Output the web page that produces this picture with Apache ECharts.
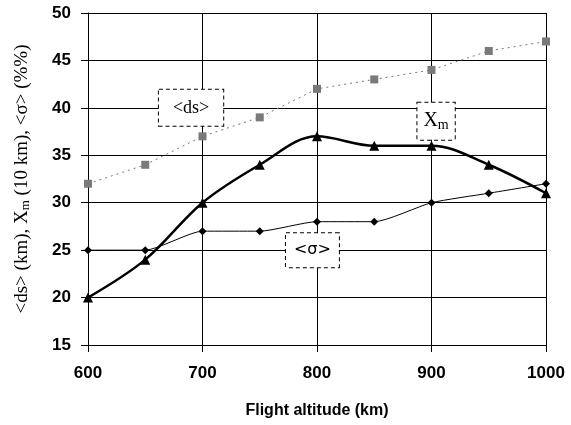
<!DOCTYPE html>
<html>
<head>
<meta charset="utf-8">
<script src="https://cdn.jsdelivr.net/npm/echarts@6/dist/echarts.min.js"></script>
<style>
  html, body { margin: 0; padding: 0; background: #fff; }
  #main { width: 571px; height: 425px; }
</style>
</head>
<body>
<div id="main"></div>
<script>
// flight altitude (km)
var altitudes = [600, 650, 700, 750, 800, 850, 900, 950, 1000];
var dsValues = [32, 34, 37, 39, 42, 43, 44, 46, 47];
var xmValues = [20, 24, 30, 34, 37, 36, 36, 34, 31];
var sigmaValues = [25, 25, 27, 27, 28, 28, 30, 31, 32];

function pairs(vals) {
    return altitudes.map(function (a, i) { return [a, vals[i]]; });
}

var boxLabel = {
    show: true,
    position: 'inside',
    fontFamily: '"Liberation Serif", "DejaVu Serif", serif',
    fontSize: 18,
    color: '#000',
    backgroundColor: '#fff',
    borderColor: '#000',
    borderWidth: 1,
    borderType: [4, 3],
    padding: [9, 14, 9, 14]
};

var myChart = echarts.init(document.getElementById('main'));
myChart.setOption({
    animation: false,
    backgroundColor: '#fff',
    grid: { left: 88, right: 25, top: 13, bottom: 80 },
    xAxis: {
        type: 'value',
        min: 600,
        max: 1000,
        interval: 100,
        name: 'Flight altitude (km)',
        nameLocation: 'middle',
        nameGap: 58,
        nameTextStyle: { fontFamily: '"Liberation Sans", Arial, sans-serif', fontWeight: 'bold', fontSize: 16, color: '#000' },
        axisLine: { lineStyle: { color: '#000', width: 1 } },
        axisTick: { show: true, length: 7, lineStyle: { color: '#000' } },
        axisLabel: {
            margin: 20,
            formatter: function (v) { return String(v); },
            fontFamily: '"Liberation Sans", Arial, sans-serif', fontWeight: 'bold', fontSize: 17, color: '#000'
        },
        splitLine: { show: true, lineStyle: { color: '#000', width: 1 } }
    },
    yAxis: {
        type: 'value',
        min: 15,
        max: 50,
        interval: 5,
        name: '<ds> (km), {i|X}{sub|m} (10 km), <σ> (%%)',
        nameLocation: 'middle',
        nameGap: 56,
        nameTextStyle: {
            fontFamily: '"Liberation Serif", "DejaVu Serif", serif',
            fontSize: 19,
            color: '#000',
            rich: {
                i: { fontFamily: '"Liberation Serif", serif', fontSize: 19, color: '#000' },
                sub: { fontFamily: '"Liberation Serif", serif', fontSize: 13, color: '#000', verticalAlign: 'bottom', padding: [7, 0, 0, 0] }
            }
        },
        axisLine: { show: true, lineStyle: { color: '#000', width: 1 } },
        axisTick: { show: true, length: 7, lineStyle: { color: '#000' } },
        axisLabel: { margin: 17, fontFamily: '"Liberation Sans", Arial, sans-serif', fontWeight: 'bold', fontSize: 17, color: '#000' },
        splitLine: { show: true, lineStyle: { color: '#000', width: 1 } }
    },
    series: [
        {
            name: '<ds>',
            type: 'line',
            data: pairs(dsValues),
            symbol: 'rect',
            symbolSize: 8,
            itemStyle: { color: '#7a7a7a' },
            lineStyle: { color: '#777', width: 1, type: [2, 4] },
            z: 3,
            markPoint: {
                symbol: 'rect',
                symbolSize: 0,
                data: [{ coord: [690, 40], label: Object.assign({}, boxLabel, { formatter: '<ds>' }) }]
            }
        },
        {
            name: 'Xm',
            type: 'line',
            data: pairs(xmValues),
            smooth: 0.35,
            symbol: 'triangle',
            symbolSize: 10,
            itemStyle: { color: '#000' },
            lineStyle: { color: '#000', width: 2.5 },
            z: 4,
            markPoint: {
                symbol: 'rect',
                symbolSize: 0,
                data: [{
                    coord: [904, 38.6],
                    label: Object.assign({}, boxLabel, {
                        formatter: 'X{s|m}',
                        fontSize: 20,
                        padding: [7, 6, 7, 6],
                        rich: { s: { fontFamily: '"Liberation Serif", serif', fontSize: 14, color: '#000', verticalAlign: 'bottom', padding: [9, 0, 0, 0] } }
                    })
                }]
            }
        },
        {
            name: '<σ>',
            type: 'line',
            data: pairs(sigmaValues),
            smooth: 0.2,
            symbol: 'diamond',
            symbolSize: 8,
            itemStyle: { color: '#000' },
            lineStyle: { color: '#000', width: 1 },
            z: 3,
            markPoint: {
                symbol: 'rect',
                symbolSize: 0,
                data: [{ coord: [796, 25], label: Object.assign({}, boxLabel, { formatter: '<σ>', fontFamily: '"DejaVu Sans", sans-serif', fontSize: 16, padding: [9, 8, 9, 8] }) }]
            }
        }
    ]
});
</script>
</body>
</html>
